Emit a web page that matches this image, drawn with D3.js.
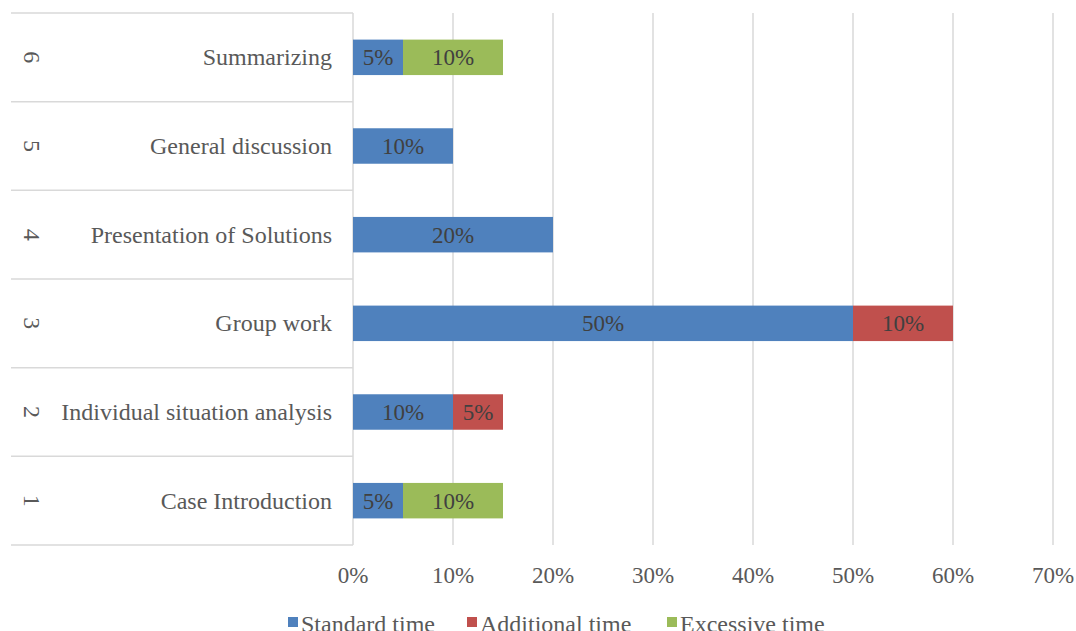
<!DOCTYPE html>
<meta charset="utf-8">
<script src="https://d3js.org/d3.v7.min.js"></script>
<style>
  body { margin: 0; background: #fff; }
  text { font-family: "Liberation Serif", "Times New Roman", serif; }
</style>
<div id="chart"></div>
<script>
// data
var steps = ["1", "2", "3", "4", "5", "6"];
var activities = ["Case Introduction", "Individual situation analysis", "Group work",
                  "Presentation of Solutions", "General discussion", "Summarizing"];
var standardTime   = [0.05, 0.10, 0.50, 0.20, 0.10, 0.05];
var additionalTime = [0,    0.05, 0.10, 0,    0,    0];
var excessiveTime  = [0.10, 0,    0,    0,    0,    0.10];
var seriesNames = ["Standard time", "Additional time", "Excessive time"];
var xTicks = [0, 0.1, 0.2, 0.3, 0.4, 0.5, 0.6, 0.7];

var colors = ["#4F81BD", "#C0504D", "#9BBB59"];

var W = 1076, H = 631;
var plotL = 353, plotR = 1053, plotT = 13, plotB = 545;

var svg = d3.select("#chart").append("svg")
    .attr("width", W).attr("height", H);

var x = d3.scaleLinear().domain([0, 0.7]).range([plotL, plotR]);
var y = d3.scaleBand()
    .domain(steps.slice().reverse())
    .range([plotT, plotB])
    .paddingInner(0.6).paddingOuter(0.3);

// grid lines
svg.append("g").selectAll("line")
    .data(xTicks.slice(1))
    .enter().append("line")
      .attr("x1", function(d) { return x(d); })
      .attr("x2", function(d) { return x(d); })
      .attr("y1", plotT).attr("y2", plotB)
      .attr("stroke", "#d9d9d9").attr("stroke-width", 1.5);

// category table lines
var bounds = d3.range(steps.length + 1).map(function(i) { return plotT + i * y.step(); });
svg.append("g").selectAll("line")
    .data(bounds)
    .enter().append("line")
      .attr("x1", 11).attr("x2", plotL)
      .attr("y1", function(d) { return d; })
      .attr("y2", function(d) { return d; })
      .attr("stroke", "#d9d9d9").attr("stroke-width", 1.5);

svg.append("line")
    .attr("x1", plotL).attr("x2", plotL)
    .attr("y1", plotT).attr("y2", plotB)
    .attr("stroke", "#d9d9d9").attr("stroke-width", 1.5);

// stacked data
var rows = steps.map(function(s, i) {
  return {step: s, activity: activities[i],
          vals: [standardTime[i], additionalTime[i], excessiveTime[i]]};
});

var segs = [];
rows.forEach(function(r) {
  var acc = 0;
  r.vals.forEach(function(v, k) {
    if (v > 0) segs.push({step: r.step, x0: acc, x1: acc + v, v: v, k: k});
    acc += v;
  });
});

svg.append("g").selectAll("rect")
    .data(segs)
    .enter().append("rect")
      .attr("x", function(d) { return x(d.x0); })
      .attr("y", function(d) { return y(d.step); })
      .attr("width", function(d) { return x(d.x1) - x(d.x0); })
      .attr("height", y.bandwidth())
      .attr("fill", function(d) { return colors[d.k]; });

svg.append("g").selectAll("text")
    .data(segs)
    .enter().append("text")
      .attr("x", function(d) { return (x(d.x0) + x(d.x1)) / 2; })
      .attr("y", function(d) { return y(d.step) + y.bandwidth() / 2 + 8; })
      .attr("text-anchor", "middle")
      .style("font-size", "23px")
      .attr("fill", "#404040")
      .text(function(d) { return Math.round(d.v * 100) + "%"; });

// category labels
var mid = function(s) { return y(s) + y.bandwidth() / 2; };
svg.append("g").selectAll("text")
    .data(rows)
    .enter().append("text")
      .attr("x", 332)
      .attr("y", function(d) { return mid(d.step) + 8; })
      .attr("text-anchor", "end")
      .style("font-size", "24px")
      .attr("fill", "#595959")
      .text(function(d) { return d.activity; });

svg.append("g").selectAll("text")
    .data(rows)
    .enter().append("text")
      .attr("transform", function(d) { return "translate(24," + mid(d.step) + ") rotate(90)"; })
      .attr("text-anchor", "middle")
      .style("font-size", "24px")
      .attr("fill", "#595959")
      .text(function(d) { return d.step; });

// x axis labels
svg.append("g").selectAll("text")
    .data(xTicks)
    .enter().append("text")
      .attr("x", function(d) { return x(d); })
      .attr("y", 583)
      .attr("text-anchor", "middle")
      .style("font-size", "23px")
      .attr("fill", "#595959")
      .text(function(d) { return d3.format(".0%")(d); });

// legend
var legX = [288, 467, 667];
var leg = svg.append("g").selectAll("g")
    .data(seriesNames)
    .enter().append("g")
      .attr("transform", function(d, i) { return "translate(" + legX[i] + ",617)"; });
leg.append("rect")
    .attr("width", 10).attr("height", 10)
    .attr("fill", function(d, i) { return colors[i]; });
leg.append("text")
    .attr("x", 13).attr("y", 15)
    .style("font-size", "24px")
    .attr("fill", "#595959")
    .text(function(d) { return d; });
</script>
